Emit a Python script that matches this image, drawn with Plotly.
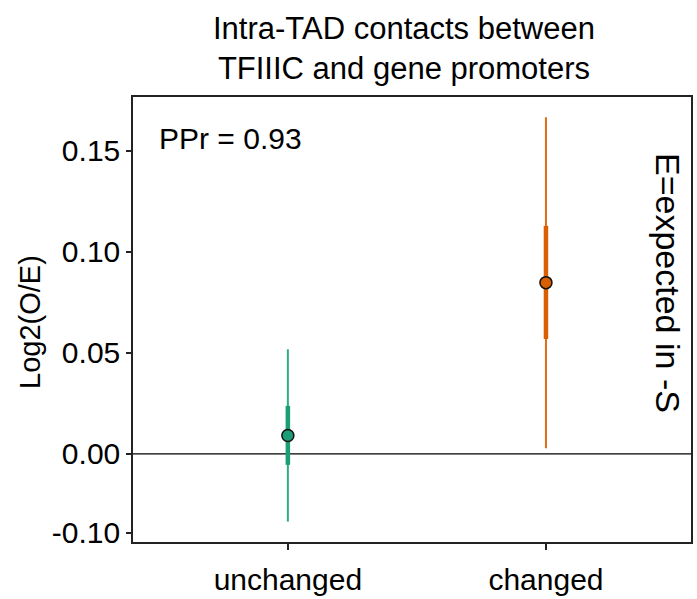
import plotly.graph_objects as go

categories = ["unchanged", "changed"]
cat_pos = [0, 1]
point_est = [0.0091, 0.0848]
ci_outer_low = [-0.0335, 0.0028]
ci_outer_high = [0.0518, 0.1667]
ci_inner_low = [-0.0054, 0.0569]
ci_inner_high = [0.0238, 0.1129]
colors = ["#1b9e77", "#d95f02"]
thin_colors = ["#2fac82", "#e06c12"]

tick_vals = [-0.039, 0.0, 0.05, 0.10, 0.15]
tick_text = ["-0.10", "0.00", "0.05", "0.10", "0.15"]

FONT = "Liberation Sans, Arial, sans-serif"

fig = go.Figure()

for i in range(len(categories)):
    x = cat_pos[i]
    fig.add_trace(go.Scatter(
        x=[x, x], y=[ci_outer_low[i], ci_outer_high[i]], mode="lines",
        line=dict(color=thin_colors[i], width=2), showlegend=False, hoverinfo="skip"))
    fig.add_trace(go.Scatter(
        x=[x, x], y=[ci_inner_low[i], ci_inner_high[i]], mode="lines",
        line=dict(color=colors[i], width=4.5), showlegend=False, hoverinfo="skip"))
    fig.add_trace(go.Scatter(
        x=[x], y=[point_est[i]], mode="markers",
        marker=dict(color=colors[i], size=12, line=dict(color="#111", width=1.5)),
        showlegend=False))

fig.add_shape(type="line", xref="paper", x0=0, x1=1, yref="y", y0=0, y1=0,
              line=dict(color="black", width=1.3), layer="below")

fig.update_layout(
    width=697, height=599,
    margin=dict(l=133, r=6, t=97, b=57),
    paper_bgcolor="white", plot_bgcolor="white",
    font=dict(family=FONT, color="black", size=30),
    xaxis=dict(range=[-0.6, 1.562], tickvals=cat_pos, ticktext=categories,
               showline=True, mirror=True, linecolor="#222", linewidth=1.5,
               ticks="outside", ticklen=6, tickwidth=1.5, tickcolor="#222",
               ticklabelstandoff=4, automargin=False,
               showgrid=False, zeroline=False, tickfont=dict(size=30)),
    yaxis=dict(range=[-0.0436, 0.1767], tickvals=tick_vals, ticktext=tick_text,
               showline=True, mirror=True, linecolor="#222", linewidth=1.5,
               ticks="outside", ticklen=5, tickwidth=1.5, tickcolor="#222",
               automargin=False,
               showgrid=False, zeroline=False, tickfont=dict(size=30)),
)

fig.add_annotation(text="Intra-TAD contacts between<br>TFIIIC and gene promoters",
                   xref="paper", yref="paper", x=(404-133)/558, y=1 + (97-48)/445,
                   xanchor="center", yanchor="middle", showarrow=False,
                   font=dict(size=31, family=FONT))
fig.add_annotation(text="PPr = 0.93", xref="paper", yref="paper",
                   x=(157-133)/558, y=(542-138)/445, xanchor="left", yanchor="middle",
                   showarrow=False, font=dict(size=30, family=FONT))
fig.add_annotation(text="E=expected in -S", xref="paper", yref="paper",
                   x=(668-133)/558, y=(542-283)/445, xanchor="center", yanchor="middle",
                   textangle=90, showarrow=False, font=dict(size=34, family=FONT))
fig.add_annotation(text="Log2(O/E)", xref="paper", yref="paper",
                   x=(30-133)/558, y=(542-322)/445, xanchor="center", yanchor="middle",
                   textangle=-90, showarrow=False, font=dict(size=29, family=FONT))

fig.write_html("out.html")
